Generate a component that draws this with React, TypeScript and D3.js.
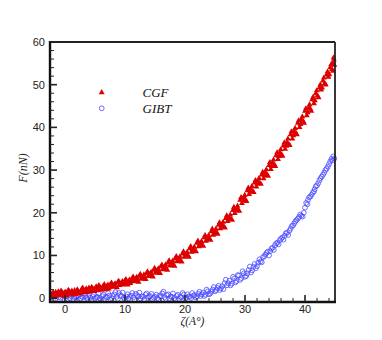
import React from "react";
import * as d3 from "d3";

// CGF, run A
const cgf: [number, number][] = [
  [-2.3,0.6],[-2.0,1.3],[-1.7,0.4],[-1.4,1.0],[-1.1,1.5],[-0.8,0.7],[-0.5,1.2],[-0.2,0.5],[0.1,1.4],[0.4,0.9],
  [0.7,1.6],[1.0,1.1],[1.3,0.8],[1.6,1.8],[1.9,1.2],[2.2,1.6],[2.5,1.0],[2.8,2.1],[3.1,1.4],[3.4,1.9],
  [3.7,1.3],[4.0,2.4],[4.3,1.7],[4.6,2.2],[4.9,1.6],[5.2,2.7],[5.5,2.0],[5.8,2.5],[6.1,1.9],[6.4,2.9],
  [6.7,2.3],[7.0,2.8],[7.3,2.2],[7.6,3.3],[7.9,2.6],[8.2,3.1],[8.5,2.7],[8.8,3.7],[9.1,3.0],[9.4,3.5],
  [9.7,3.1],[10.0,4.1],[10.3,3.4],[10.6,3.9],[10.9,3.5],[11.2,4.6],[11.5,3.9],[11.8,4.5],[12.1,4.0],[12.4,5.2],
  [12.7,4.5],[13.0,5.0],[13.3,4.6],[13.6,5.8],[13.9,5.1],[14.2,5.7],[14.5,5.2],[14.8,6.6],[15.1,5.9],[15.4,6.4],
  [15.7,6.0],[16.0,7.4],[16.3,6.7],[16.6,7.3],[16.9,6.8],[17.2,8.3],[17.5,7.6],[17.8,8.2],[18.1,7.7],[18.4,9.3],
  [18.7,8.6],[19.0,9.1],[19.3,8.7],[19.6,10.4],[19.9,9.6],[20.2,10.2],[20.5,9.9],[20.8,11.6],[21.1,10.8],[21.4,11.4],
  [21.7,11.0],[22.0,12.9],[22.3,12.1],[22.6,12.8],[22.9,12.4],[23.2,14.2],[23.5,13.4],[23.8,14.1],[24.1,13.8],[24.4,15.6],
  [24.7,14.8],[25.0,15.6],[25.3,15.2],[25.6,17.1],[25.9,16.3],[26.2,17.2],[26.5,16.7],[26.8,18.7],[27.1,18.0],[27.4,18.8],
  [27.7,18.5],[28.0,20.6],[28.3,19.9],[28.6,21.0],[28.9,20.6],[29.2,23.0],[29.5,22.2],[29.8,23.5],[30.1,23.0],[30.4,25.2],
  [30.7,24.3],[31.0,25.6],[31.3,25.0],[31.6,27.0],[31.9,26.1],[32.2,27.4],[32.5,26.9],[32.8,28.9],[33.1,28.0],[33.4,29.4],
  [33.7,28.9],[34.0,31.1],[34.3,30.2],[34.6,31.7],[34.9,31.2],[35.2,33.4],[35.5,32.5],[35.8,34.0],[36.1,33.6],[36.4,35.7],
  [36.7,34.9],[37.0,36.5],[37.3,36.1],[37.6,38.3],[37.9,37.3],[38.2,39.0],[38.5,38.7],[38.8,41.0],[39.1,40.0],[39.4,41.8],
  [39.7,41.4],[40.0,43.8],[40.3,42.8],[40.6,44.6],[40.9,44.3],[41.2,46.5],[41.5,45.6],[41.8,47.9],[42.1,47.4],[42.4,49.3],
  [42.7,48.8],[43.0,50.9],[43.3,50.3],[43.6,52.3],[43.9,51.8],[44.2,54.0],[44.5,53.6],[44.8,55.8],[44.6,55.0],[44.9,54.6],
];

// CGF, run B
const cgfB: [number, number][] = [
  [-2.15,1.0],[-1.85,0.3],[-1.55,1.4],[-1.25,0.6],[-0.95,1.1],[-0.65,1.7],[-0.35,0.8],[-0.05,1.3],[0.25,0.6],[0.55,1.9],
  [0.85,1.3],[1.15,1.7],[1.45,1.2],[1.75,0.9],[2.05,2.0],[2.35,1.3],[2.65,1.7],[2.95,2.4],[3.25,1.6],[3.55,2.2],
  [3.85,1.9],[4.15,1.5],[4.45,2.6],[4.75,2.0],[5.05,2.3],[5.35,1.8],[5.65,3.0],[5.95,2.2],[6.25,2.6],[6.55,3.2],
  [6.85,2.0],[7.15,3.1],[7.45,2.6],[7.75,3.6],[8.05,2.9],[8.35,3.4],[8.65,2.5],[8.95,4.0],[9.25,3.3],[9.55,3.9],
  [9.85,3.6],[10.15,4.4],[10.45,3.1],[10.75,4.3],[11.05,4.0],[11.35,5.0],[11.65,4.3],[11.95,4.9],[12.25,3.8],[12.55,5.6],
  [12.85,4.8],[13.15,5.5],[13.45,4.4],[13.75,6.2],[14.05,5.5],[14.35,6.1],[14.65,5.0],[14.95,7.0],[15.25,6.3],[15.55,6.9],
  [15.85,5.8],[16.15,7.8],[16.45,7.0],[16.75,7.8],[17.05,6.6],[17.35,8.8],[17.65,8.0],[17.95,8.7],[18.25,7.5],[18.55,9.8],
  [18.85,9.0],[19.15,9.7],[19.45,8.5],[19.75,10.9],[20.05,10.1],[20.35,10.8],[20.65,9.6],[20.95,12.1],[21.25,11.3],[21.55,12.0],
  [21.85,10.9],[22.15,13.4],[22.45,12.6],[22.75,13.3],[23.05,12.2],[23.35,14.7],[23.65,13.9],[23.95,14.7],[24.25,13.6],[24.55,16.2],
  [24.85,15.3],[25.15,16.2],[25.45,15.0],[25.75,17.7],[26.05,16.9],[26.35,17.8],[26.65,16.5],[26.95,19.3],[27.25,18.5],[27.55,19.5],
  [27.85,18.3],[28.15,21.3],[28.45,20.5],[28.75,21.6],[29.05,20.4],[29.35,23.6],[29.65,22.8],[29.95,24.1],[30.25,22.7],[30.55,25.8],
  [30.85,24.9],[31.15,26.2],[31.45,24.8],[31.75,27.6],[32.05,26.8],[32.35,28.1],[32.65,26.7],[32.95,29.5],[33.25,28.7],[33.55,30.1],
  [33.85,28.6],[34.15,31.8],[34.45,30.9],[34.75,32.4],[35.05,30.9],[35.35,34.1],[35.65,33.2],[35.95,34.8],[36.25,33.3],[36.55,36.4],
  [36.85,35.6],[37.15,37.3],[37.45,35.8],[37.75,39.0],[38.05,38.1],[38.35,39.8],[38.65,38.3],[38.95,41.6],[39.25,40.7],[39.55,42.5],
  [39.85,41.0],[40.15,44.4],[40.45,43.5],[40.75,45.3],[41.05,43.8],[41.35,47.1],[41.65,46.3],[41.95,48.6],[42.25,47.0],[42.55,50.0],
  [42.85,49.3],[43.15,51.6],[43.45,50.0],[43.75,53.0],[44.05,52.4],[44.35,54.7],[44.65,53.2],[44.75,56.3],
];

// GIBT, run A
const gibt: [number, number][] = [
  [-2.2,0.3],[-1.9,1.1],[-1.6,-0.2],[-1.3,0.6],[-1.0,1.3],[-0.7,0.1],[-0.4,0.8],[-0.1,-0.3],[0.2,0.5],[0.5,1.0],
  [0.8,0.0],[1.1,0.4],[1.4,-0.2],[1.8,0.3],[2.2,0.6],[2.6,-0.1],[3.0,0.2],[3.4,0.5],[3.8,-0.2],[4.2,0.1],
  [4.6,0.4],[5.0,-0.1],[5.4,0.3],[5.8,0.0],[6.2,0.5],[6.6,-0.2],[7.0,0.2],[7.4,0.6],[7.8,0.0],[8.2,0.9],
  [8.6,0.3],[9.0,1.2],[9.4,0.5],[9.8,0.1],[10.2,0.4],[10.6,-0.1],[11.0,0.6],[11.4,0.2],[11.8,1.0],[12.2,0.4],
  [12.6,-0.1],[13.0,0.3],[13.4,0.8],[13.8,0.1],[14.2,0.5],[14.6,-0.2],[15.0,0.3],[15.4,0.0],[15.8,0.6],[16.2,1.1],
  [16.6,0.2],[17.0,0.7],[17.4,-0.1],[17.8,0.3],[18.2,0.0],[18.6,0.5],[19.0,-0.2],[19.4,0.2],[19.8,0.8],[20.2,0.1],
  [20.6,0.4],[21.0,0.0],[21.4,0.6],[21.8,0.2],[22.2,1.0],[22.6,0.5],[23.0,1.3],[23.4,0.8],[23.8,1.6],[24.2,1.1],
  [24.6,2.0],[25.0,1.6],[25.4,2.4],[25.8,1.9],[26.2,2.8],[26.6,3.5],[27.0,3.0],[27.4,4.1],[27.8,3.4],[28.2,4.6],
  [28.6,4.0],[29.0,5.3],[29.4,4.7],[29.8,5.8],[30.2,5.2],[30.6,6.6],[31.0,6.0],[31.4,7.3],[31.8,7.0],[32.2,8.3],
  [32.6,8.6],[33.0,9.6],[33.4,10.2],[33.8,10.9],[34.2,11.0],[34.6,11.8],[35.0,12.4],[35.4,13.0],[35.8,13.6],[36.2,14.2],
  [36.6,14.6],[37.0,15.3],[37.4,15.8],[37.8,16.9],[38.2,17.5],[38.6,18.3],[39.0,19.0],[39.4,19.3],[39.8,20.0],[40.2,22.3],
  [40.5,23.0],[40.9,23.8],[41.3,24.7],[41.6,25.5],[42.0,26.4],[42.4,27.6],[42.8,28.5],[43.2,29.4],[43.6,30.3],[44.0,31.4],
  [44.4,32.6],[44.7,33.2],[44.9,32.7],
];

// GIBT, run B
const gibtB: [number, number][] = [
  [-2.0,-0.4],[-1.5,0.9],[-1.1,0.2],[-0.6,1.4],[-0.2,0.4],[0.3,-0.5],[0.7,0.7],[1.2,1.1],[1.6,0.1],[2.0,-0.4],
  [2.4,0.9],[2.8,0.4],[3.2,1.0],[3.6,0.1],[4.0,0.7],[4.4,-0.4],[4.8,0.8],[5.2,0.2],[5.6,1.1],[6.0,-0.3],
  [6.4,0.8],[6.8,0.3],[7.2,1.2],[7.6,-0.4],[8.0,0.5],[8.4,1.4],[8.8,-0.2],[9.2,0.7],[9.6,1.3],[10.0,-0.3],
  [10.4,0.9],[10.8,0.3],[11.2,1.2],[11.6,-0.4],[12.0,0.7],[12.4,1.3],[12.8,0.4],[13.2,-0.3],[13.6,1.1],[14.0,0.4],
  [14.4,1.0],[14.8,0.1],[15.2,0.8],[15.6,-0.4],[16.0,0.4],[16.4,1.5],[16.8,-0.2],[17.2,0.9],[17.6,0.4],[18.0,1.1],
  [18.4,-0.4],[18.8,0.8],[19.2,0.3],[19.6,1.2],[20.0,-0.2],[20.4,0.9],[20.8,0.3],[21.2,1.2],[21.6,0.7],[22.0,0.4],
  [22.4,1.5],[22.8,0.9],[23.2,0.5],[23.6,2.0],[24.0,0.9],[24.4,1.5],[24.8,2.6],[25.2,1.9],[25.6,2.9],[26.0,2.3],
  [26.4,2.1],[26.8,4.3],[27.2,3.5],[27.6,3.0],[28.0,5.0],[28.4,3.7],[28.8,5.4],[29.2,4.3],[29.6,6.3],[30.0,5.0],
  [30.4,5.8],[30.8,7.4],[31.2,6.5],[31.6,8.0],[32.0,7.5],[32.4,9.1],[32.8,8.4],[33.2,9.8],[33.6,10.6],[34.0,10.0],
  [34.4,11.6],[34.8,11.3],[35.2,12.8],[35.6,12.6],[36.0,13.9],[36.4,13.7],[36.8,15.2],[37.2,14.8],[37.6,16.3],[38.0,17.0],
  [38.4,18.0],[38.8,18.6],[39.2,19.6],[39.6,19.1],[40.0,21.2],[40.4,22.0],[40.7,23.6],[41.1,24.2],[41.5,25.0],[41.8,26.2],
  [42.2,26.9],[42.6,28.1],[43.0,28.9],[43.4,30.0],[43.8,30.8],[44.2,32.0],[44.6,32.3],
];

const xMajor = [0, 10, 20, 30, 40];
const yMajor = [0, 10, 20, 30, 40, 50, 60];
const seriesNames = ["CGF", "GIBT"];

const W = 382, H = 340;
const L = 50, R = 335, T = 42, B = 302;
const RED = "#dd0000";
const BLUE = "#4a4aff";

export default function App() {
  const x = d3.scaleLinear().domain([-2.5, 45]).range([L, R]);
  const y = d3.scaleLinear().domain([-0.9, 60]).range([B, T]);
  const xMinor = d3.range(-2, 45.01, 2).filter((v) => !xMajor.includes(v));
  const yMinor = d3.range(0, 60.01, 2).filter((v) => !yMajor.includes(v));
  const tri = d3.symbol().type(d3.symbolTriangle).size(15)() as string;
  const tickColor = "#222";
  const labelFont = "'Liberation Sans', Arial, sans-serif";
  const serif = "'Liberation Serif', 'Times New Roman', serif";
  const blues = gibt.concat(gibtB);
  const reds = cgf.concat(cgfB);

  return (
    <svg width={W} height={H} style={{ position: "absolute", left: 0, top: 0, background: "#fff" }}>
      <defs>
        <clipPath id="plot">
          <rect x={L} y={T - 4} width={R - L + 4} height={B - T + 4} />
        </clipPath>
      </defs>
      <g clipPath="url(#plot)">
        {blues.map(([a, b], i) => (
          <circle key={"g" + i} cx={x(a)} cy={y(b)} r={2.4} fill="none" stroke={BLUE} strokeWidth={0.8} />
        ))}
        {reds.map(([a, b], i) => (
          <path key={"c" + i} d={tri} transform={`translate(${x(a)},${y(b)})`} fill={RED} />
        ))}
      </g>
      {/* frame */}
      <line x1={L} x2={R} y1={T} y2={T} stroke="#222" strokeWidth={1.8} />
      <line x1={R} x2={R} y1={T} y2={B} stroke="#222" strokeWidth={1.8} />
      <line x1={L} x2={L} y1={T - 1} y2={B + 1} stroke="#111" strokeWidth={2.4} />
      <line x1={L - 1} x2={R + 1} y1={B} y2={B} stroke="#111" strokeWidth={2.4} />
      {/* x ticks */}
      {xMajor.map((v) => (
        <g key={"xm" + v}>
          <line x1={x(v)} x2={x(v)} y1={B} y2={B - 7} stroke={tickColor} strokeWidth={1.6} />
          <text x={x(v)} y={B + 11} textAnchor="middle" fontFamily={labelFont} fontSize={11} fill="#222">{v}</text>
        </g>
      ))}
      {xMinor.map((v) => (
        <line key={"xn" + v} x1={x(v)} x2={x(v)} y1={B} y2={B - 4} stroke={tickColor} strokeWidth={1} />
      ))}
      {/* y ticks */}
      {yMajor.map((v) => (
        <g key={"ym" + v}>
          <line x1={L} x2={L + 7} y1={y(v)} y2={y(v)} stroke={tickColor} strokeWidth={1.6} />
          <text x={L - 5} y={y(v) + 4} textAnchor="end" fontFamily={labelFont} fontSize={11} fill="#222">{v}</text>
        </g>
      ))}
      {yMinor.map((v) => (
        <line key={"yn" + v} x1={L} x2={L + 4} y1={y(v)} y2={y(v)} stroke={tickColor} strokeWidth={1} />
      ))}
      {/* axis titles */}
      <text x={(L + R) / 2} y={324.5} textAnchor="middle" fontFamily={serif} fontStyle="italic" fontSize={11.5} fill="#222">ζ(A°)</text>
      <text transform={`translate(27,${(T + B) / 2 - 4}) rotate(-90)`} textAnchor="middle" fontFamily={serif} fontStyle="italic" fontSize={12} fill="#222">F(nN)</text>
      {/* legend */}
      <path d={tri} transform="translate(101.7,92.5)" fill={RED} />
      <text x={142.5} y={96.5} fontFamily={serif} fontStyle="italic" fontSize={13} fill="#111">{seriesNames[0]}</text>
      <circle cx={101.7} cy={108.3} r={2.4} fill="none" stroke={BLUE} strokeWidth={0.8} />
      <text x={142.5} y={112.7} fontFamily={serif} fontStyle="italic" fontSize={13} fill="#111">{seriesNames[1]}</text>
    </svg>
  );
}
